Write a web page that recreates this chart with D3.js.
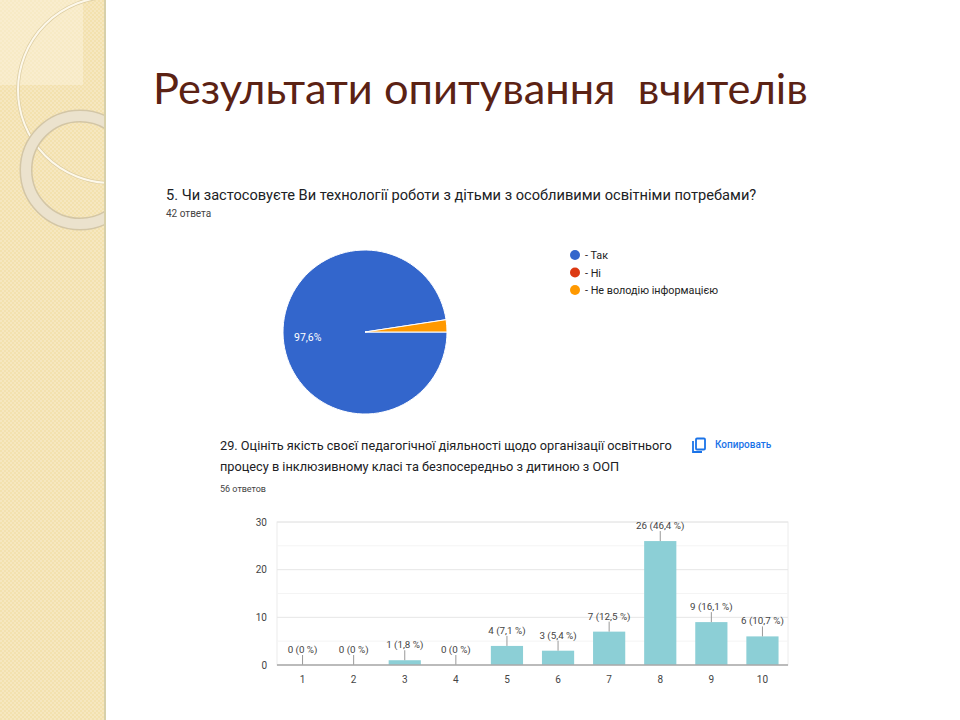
<!DOCTYPE html>
<html>
<head>
<meta charset="utf-8">
<script src="https://cdn.jsdelivr.net/npm/d3@7"></script>
<style>
  body { margin: 0; background: #fff; }
  svg { display: block; }
</style>
</head>
<body>
<svg id="slide" width="960" height="720"></svg>
<script>
// pie data (question 5)
var pieLabels = ["- Так", "- Ні", "- Не володію інформацією"];
var pieValues = [97.6, 0, 2.4];
var pieColors = ["#3366cc", "#dc3912", "#ff9900"];

// bar data (question 29)
var barCats = ["1", "2", "3", "4", "5", "6", "7", "8", "9", "10"];
var barCounts = [0, 0, 1, 0, 4, 3, 7, 26, 9, 6];
var barPcts = ["0", "0", "1,8", "0", "7,1", "5,4", "12,5", "46,4", "16,1", "10,7"];
var yTicks = [0, 10, 20, 30];
var yMinor = [5, 15, 25];

var svg = d3.select("#slide");

// shrink/grow a text's font so it spans the given width
function fitWidth(sel, size, w) {
	var l = sel.node().getComputedTextLength();
	sel.attr("font-size", size * w / l);
}

// left decorative strip
var defs = svg.append("defs");
var pat = defs.append("pattern").attr("id", "chk")
	.attr("width", 4).attr("height", 4).attr("patternUnits", "userSpaceOnUse");
pat.append("rect").attr("width", 4).attr("height", 4).attr("fill", "#f3e1ae");
pat.append("rect").attr("width", 2).attr("height", 2).attr("fill", "#f6e7c0");
pat.append("rect").attr("x", 2).attr("y", 2).attr("width", 2).attr("height", 2).attr("fill", "#f6e7c0");
defs.append("clipPath").attr("id", "stripClip")
	.append("rect").attr("width", 105).attr("height", 720);

var strip = svg.append("g").attr("clip-path", "url(#stripClip)");
strip.append("rect").attr("width", 105).attr("height", 720).attr("fill", "url(#chk)");
strip.append("rect").attr("width", 83).attr("height", 85).attr("fill", "#fbf3dc").attr("opacity", 0.5);
// big thin circle
strip.append("circle").attr("cx", 111).attr("cy", 90).attr("r", 93)
	.attr("fill", "none").attr("stroke", "#dccda3").attr("stroke-width", 3.5);
strip.append("circle").attr("cx", 111).attr("cy", 90).attr("r", 93)
	.attr("fill", "none").attr("stroke", "#fdf8ea").attr("stroke-width", 2);
// thick ring
strip.append("circle").attr("cx", 80).attr("cy", 170).attr("r", 54)
	.attr("fill", "none").attr("stroke", "#d3c6a6").attr("stroke-width", 13);
strip.append("circle").attr("cx", 80).attr("cy", 170).attr("r", 54)
	.attr("fill", "none").attr("stroke", "#ebe2cd").attr("stroke-width", 10);
svg.append("rect").attr("x", 104).attr("width", 2).attr("height", 720).attr("fill", "#d7d0aa");

// title
var title = svg.append("text")
	.attr("x", 153).attr("y", 104)
	.attr("font-family", "Lato, 'Open Sans', sans-serif")
	.attr("font-size", 40)
	.attr("fill", "#5b2214")
	.style("white-space", "pre")
	.text("Результати опитування  вчителів");
fitWidth(title, 40, 655);

var font = "Roboto, Arial, sans-serif";

// ---------- pie ----------
var q1 = svg.append("text").attr("x", 166).attr("y", 200)
	.attr("font-family", font).attr("font-size", 13).attr("fill", "#202124")
	.text("5. Чи застосовуєте Ви технології роботи з дітьми з особливими освітніми потребами?");
fitWidth(q1, 13, 591);
svg.append("text").attr("x", 166).attr("y", 217)
	.attr("font-family", font).attr("font-size", 10).attr("fill", "#444")
	.text("42 ответа");

var pie = d3.pie().sort(null)
	.startAngle(Math.PI / 2).endAngle(Math.PI / 2 + 2 * Math.PI);
var arc = d3.arc().innerRadius(0).outerRadius(82);
var pg = svg.append("g").attr("transform", "translate(365,332)");
pg.selectAll("path").data(pie(pieValues)).enter().append("path")
	.attr("d", arc)
	.attr("fill", (d, i) => pieColors[i])
	.attr("stroke", "#fff").attr("stroke-width", d => d.value > 0 ? 1 : 0);
pg.append("text").attr("x", -71).attr("y", 9)
	.attr("font-family", font).attr("font-size", 10.5).attr("fill", "#fff")
	.text(pieValues[0].toFixed(1).replace(".", ",") + "%");

var lg = svg.append("g").selectAll("g").data(pieLabels).enter().append("g")
	.attr("transform", (d, i) => "translate(575," + (255 + i * 17.5) + ")");
lg.append("circle").attr("r", 5).attr("fill", (d, i) => pieColors[i]);
lg.append("text").attr("x", 10).attr("y", 4)
	.attr("font-family", font).attr("font-size", 10.8).attr("fill", "#222")
	.text(d => d);

// ---------- bar chart ----------
var q2a = svg.append("text").attr("x", 220).attr("y", 450)
	.attr("font-family", font).attr("font-size", 12.8).attr("fill", "#202124")
	.text("29. Оцініть якість своєї педагогічної діяльності щодо організації освітнього");
fitWidth(q2a, 12.8, 452);
svg.append("text").attr("x", 220).attr("y", 471)
	.attr("font-family", font).attr("font-size", q2a.attr("font-size")).attr("fill", "#202124")
	.text("процесу в інклюзивному класі та безпосередньо з дитиною з ООП");
svg.append("text").attr("x", 220).attr("y", 492)
	.attr("font-family", font).attr("font-size", 9).attr("fill", "#444")
	.text("56 ответов");

// copy button
var cp = svg.append("g").attr("transform", "translate(692,438)");
cp.append("path").attr("d", "M1,3 V14 H10").attr("fill", "none").attr("stroke", "#1a73e8").attr("stroke-width", 1.8);
cp.append("rect").attr("x", 4).attr("y", 0.5).attr("width", 9).attr("height", 11).attr("rx", 1)
	.attr("fill", "none").attr("stroke", "#1a73e8").attr("stroke-width", 1.8);
svg.append("text").attr("x", 715).attr("y", 448)
	.attr("font-family", font).attr("font-size", 10).attr("font-weight", 500).attr("fill", "#1a73e8")
	.text("Копировать");

var x = d3.scaleBand().domain(barCats).range([277, 788]).paddingInner(0.37).paddingOuter(0.185);
var y = d3.scaleLinear().domain([0, 30]).range([665, 522]);

var bg = svg.append("g");
bg.append("rect").attr("x", 277).attr("y", y(30)).attr("width", 511).attr("height", y(0) - y(30))
	.attr("fill", "none").attr("stroke", "#ececec");
bg.selectAll("line.minor").data(yMinor).enter().append("line").attr("class", "minor")
	.attr("x1", 277).attr("x2", 788).attr("y1", d => y(d)).attr("y2", d => y(d))
	.attr("stroke", "#f4f4f4");
bg.selectAll("line.major").data(yTicks).enter().append("line").attr("class", "major")
	.attr("x1", 277).attr("x2", 788).attr("y1", d => y(d)).attr("y2", d => y(d))
	.attr("stroke", "#e6e6e6");
bg.selectAll("text.yl").data(yTicks).enter().append("text").attr("class", "yl")
	.attr("x", 267).attr("y", d => y(d) + 3.5).attr("text-anchor", "end")
	.attr("font-family", font).attr("font-size", 10).attr("fill", "#444")
	.text(d => d);

var bars = svg.append("g").selectAll("g").data(barCounts).enter().append("g");
bars.append("rect")
	.attr("x", (d, i) => x(barCats[i]))
	.attr("y", d => y(d))
	.attr("width", x.bandwidth())
	.attr("height", d => y(0) - y(d))
	.attr("fill", "#8ccfd6");
bars.append("line")
	.attr("x1", (d, i) => x(barCats[i]) + x.bandwidth() / 2)
	.attr("x2", (d, i) => x(barCats[i]) + x.bandwidth() / 2)
	.attr("y1", d => y(d) - 10).attr("y2", d => y(d))
	.attr("stroke", "#999");
bars.append("text")
	.attr("x", (d, i) => x(barCats[i]) + x.bandwidth() / 2)
	.attr("y", d => y(d) - 12)
	.attr("text-anchor", "middle")
	.attr("font-family", font).attr("font-size", 9.8).attr("fill", "#444")
	.text((d, i) => d + " (" + barPcts[i] + " %)");

svg.append("line").attr("x1", 277).attr("x2", 788).attr("y1", y(0)).attr("y2", y(0))
	.attr("stroke", "#aaa").attr("stroke-width", 1.5);
svg.append("g").selectAll("text").data(barCats).enter().append("text")
	.attr("x", d => x(d) + x.bandwidth() / 2).attr("y", 683)
	.attr("text-anchor", "middle")
	.attr("font-family", font).attr("font-size", 10).attr("fill", "#444")
	.text(d => d);
</script>
</body>
</html>
